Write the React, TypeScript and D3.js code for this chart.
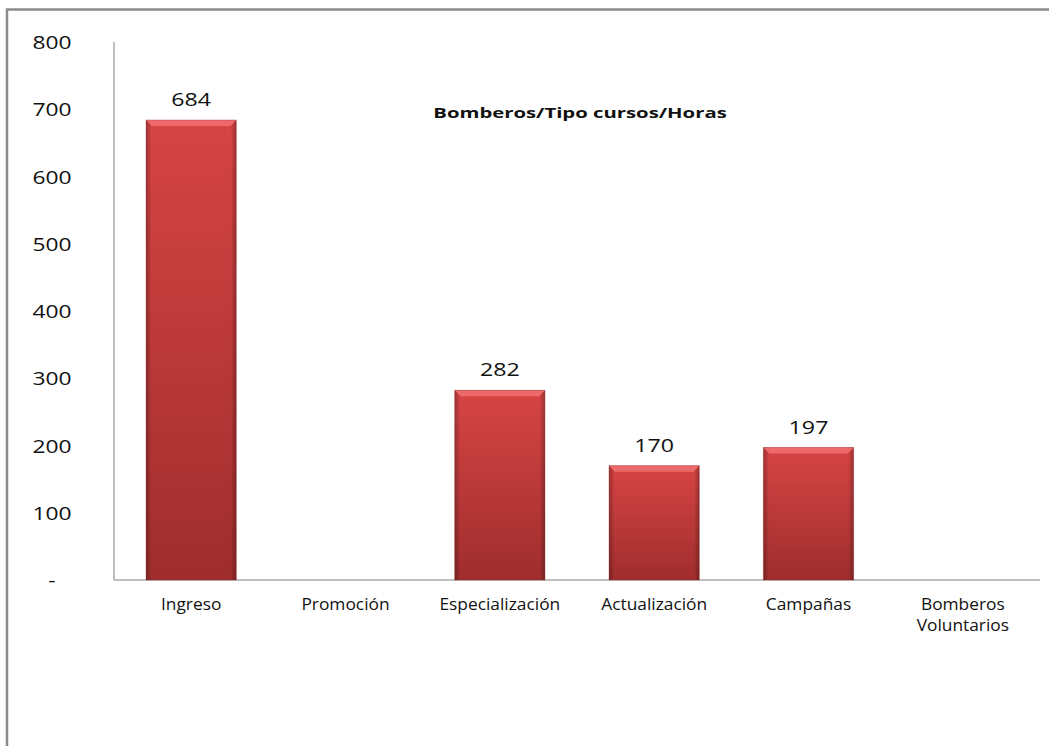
import React from 'react';
import * as d3 from 'd3';

const categories: string[][] = [
  ['Ingreso'],
  ['Promoción'],
  ['Especialización'],
  ['Actualización'],
  ['Campañas'],
  ['Bomberos', 'Voluntarios'],
];
const hours: (number | null)[] = [684, null, 282, 170, 197, null];
const yTicks: number[] = [0, 100, 200, 300, 400, 500, 600, 700, 800];
const title = 'Bomberos/Tipo cursos/Horas';

const width = 1049;
const height = 746;
const margin = { left: 114, right: 9, top: 42, bottom: 166 };

// the source picture is stretched sideways, so text is widened to match
const Stretched: React.FC<{
  x: number;
  y: number;
  sx: number;
  size: number;
  bold?: boolean;
  children: React.ReactNode;
}> = ({ x, y, sx, size, bold, children }) => (
  <text
    transform={`translate(${x},${y}) scale(${sx},1)`}
    textAnchor="middle"
    fontSize={size}
    fontWeight={bold ? 'bold' : 'normal'}
    fill="#111"
  >
    {children}
  </text>
);

const App: React.FC = () => {
  const keys = categories.map((c) => c.join(' '));
  const x = d3
    .scaleBand<string>()
    .domain(keys)
    .range([margin.left, width - margin.right])
    .paddingInner(0.415)
    .paddingOuter(0.2075);
  const y = d3
    .scaleLinear()
    .domain([0, 800])
    .range([height - margin.bottom, margin.top]);

  const fmt = (v: number) => (v === 0 ? '-' : d3.format('d')(v));
  const bevel = 6;

  return (
    <svg
      width={width}
      height={height}
      style={{ position: 'absolute', left: 0, top: 0, background: '#fff' }}
      fontFamily="'Open Sans', sans-serif"
    >
      <defs>
        <linearGradient id="barV" x1="0" y1="0" x2="0" y2="1">
          <stop offset="0%" stopColor="#e04747" />
          <stop offset="100%" stopColor="#a62f2f" />
        </linearGradient>
        <linearGradient id="barH" x1="0" y1="0" x2="1" y2="0">
          <stop offset="0%" stopColor="#000" stopOpacity={0.3} />
          <stop offset="6%" stopColor="#000" stopOpacity={0.04} />
          <stop offset="94%" stopColor="#000" stopOpacity={0.04} />
          <stop offset="100%" stopColor="#000" stopOpacity={0.3} />
        </linearGradient>
      </defs>

      {/* outer frame */}
      <path d={`M7,${height} V9.5 H${width}`} fill="none" stroke="#8a8a8a" strokeWidth={2.5} />

      {/* axes */}
      <line x1={margin.left} x2={margin.left} y1={y(800)} y2={y(0)} stroke="#aaa" strokeWidth={1.5} />
      <line x1={margin.left} x2={width - margin.right} y1={y(0)} y2={y(0)} stroke="#aaa" strokeWidth={1.5} />

      {yTicks.map((t) => (
        <Stretched key={t} x={52} y={y(t) + 7} sx={1.2} size={19}>
          {fmt(t)}
        </Stretched>
      ))}

      {keys.map((k, i) => {
        const v = hours[i];
        if (v == null) return null;
        const x0 = x(k) as number;
        const w = x.bandwidth();
        const y0 = y(v);
        const h = y(0) - y0;
        return (
          <g key={k}>
            <rect x={x0} y={y0} width={w} height={h} fill="url(#barV)" />
            <rect x={x0} y={y0} width={w} height={h} fill="url(#barH)" />
            <polygon
              points={`${x0},${y0} ${x0 + w},${y0} ${x0 + w - bevel},${y0 + bevel} ${x0 + bevel},${y0 + bevel}`}
              fill="#ee6a6a"
            />
            <rect x={x0} y={y0} width={w} height={h} fill="none" stroke="#8e2a2a" strokeOpacity={0.35} strokeWidth={1} />
            <Stretched x={x0 + w / 2} y={y0 - 14} sx={1.22} size={19}>
              {v}
            </Stretched>
          </g>
        );
      })}

      {categories.map((lines, i) =>
        lines.map((l, j) => (
          <Stretched
            key={keys[i] + j}
            x={(x(keys[i]) as number) + x.bandwidth() / 2}
            y={610 + j * 21}
            sx={1.12}
            size={15.5}
          >
            {l}
          </Stretched>
        ))
      )}

      <Stretched x={580} y={118} sx={1.4} size={14.5} bold>
        {title}
      </Stretched>
    </svg>
  );
};

export default App;
